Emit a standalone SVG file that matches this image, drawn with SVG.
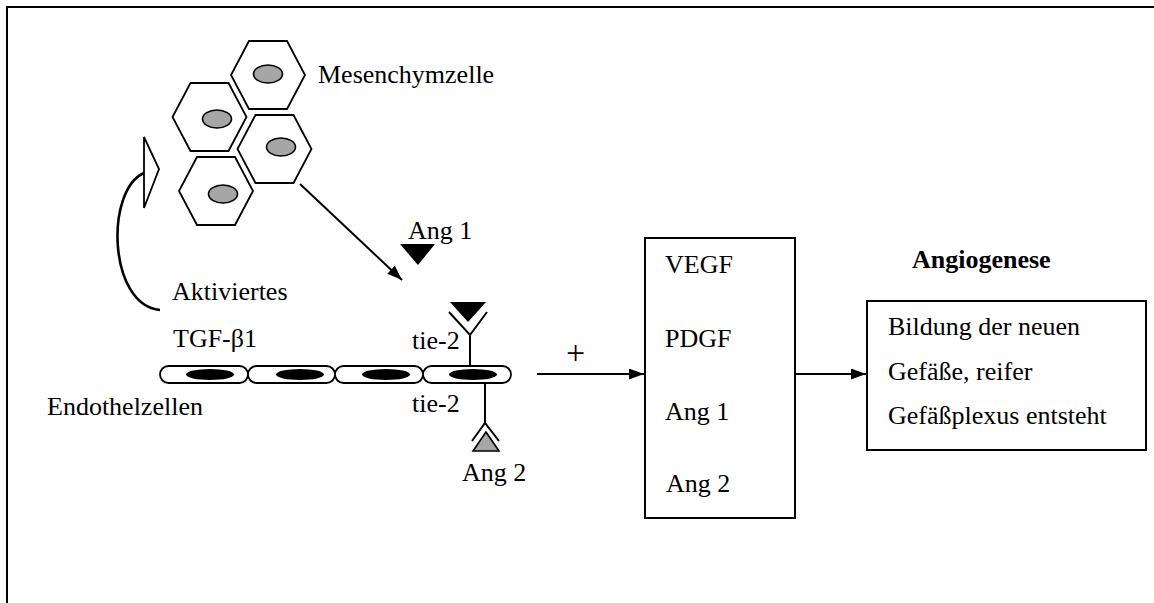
<svg xmlns="http://www.w3.org/2000/svg" width="1154" height="603" viewBox="0 0 1154 603">
  <defs>
    <style>
      .t { font-family: "Liberation Serif", "Times New Roman", serif; font-size: 26px; fill: #000; }
      .b { font-weight: bold; }
      .ln { fill: none; stroke: #000; stroke-width: 2; }
      .hex { fill: #fff; stroke: #000; stroke-width: 1.8; }
      .nuc { fill: #a6a6a6; stroke: #000; stroke-width: 1.6; }
      .cell { fill: #fff; stroke: #000; stroke-width: 1.8; }
      .box { fill: #fff; stroke: #000; stroke-width: 2; }
    </style>
    <marker id="ah" viewBox="0 0 15 11" refX="15" refY="5.5" markerWidth="15" markerHeight="11" markerUnits="userSpaceOnUse" orient="auto">
      <path d="M0,0 L15,5.5 L0,11 Z" fill="#000"/>
    </marker>
    <polygon id="hexshape" points="-19,-34 19,-34 37,0 19,34 -19,34 -37,0"/>
  </defs>

  <rect width="1154" height="603" fill="#fff"/>
  <!-- outer frame (open to the right and bottom) -->
  <path d="M7,603 V7 H1154" fill="none" stroke="#000" stroke-width="2"/>

  <!-- mesenchymal cell cluster -->
  <g id="mesenchym">
    <use href="#hexshape" class="hex" transform="translate(268,75)"/>
    <ellipse class="nuc" cx="268" cy="74" rx="14.5" ry="9"/>
    <use href="#hexshape" class="hex" transform="translate(209.5,117)"/>
    <ellipse class="nuc" cx="217" cy="119" rx="14.5" ry="9"/>
    <use href="#hexshape" class="hex" transform="translate(274.5,149)"/>
    <ellipse class="nuc" cx="281" cy="147" rx="14.5" ry="9"/>
    <use href="#hexshape" class="hex" transform="translate(216,191)"/>
    <ellipse class="nuc" cx="223" cy="194" rx="14.5" ry="9"/>
    <text class="t" x="318" y="83">Mesenchymzelle</text>
  </g>

  <!-- TGF-beta1 feedback -->
  <g id="tgf">
    <path d="M160,310 C108,305 105,190 144,173" fill="none" stroke="#000" stroke-width="2.6"/>
    <polygon points="144,137 159,169 144,208" fill="#fff" stroke="#000" stroke-width="1.8"/>
    <text class="t" x="172" y="300">Aktiviertes</text>
    <text class="t" x="173" y="347">TGF-β1</text>
  </g>

  <!-- Ang 1 ligand -->
  <g id="ang1">
    <text class="t" x="408" y="239">Ang 1</text>
    <polygon points="400,244 435,244 418,265" fill="#000"/>
  </g>

  <!-- endothelial cell row -->
  <g id="endothel">
    <rect class="cell" x="160" y="366" width="88" height="17" rx="8.5"/>
    <rect class="cell" x="248" y="366" width="87" height="17" rx="8.5"/>
    <rect class="cell" x="335" y="366" width="88" height="17" rx="8.5"/>
    <rect class="cell" x="423" y="366" width="88" height="17" rx="8.5"/>
    <ellipse cx="210" cy="374.5" rx="24" ry="5.5" fill="#000"/>
    <ellipse cx="300" cy="374.5" rx="24" ry="5.5" fill="#000"/>
    <ellipse cx="386" cy="374.5" rx="24" ry="5.5" fill="#000"/>
    <ellipse cx="473" cy="374.5" rx="24" ry="5.5" fill="#000"/>
    <text class="t" x="47" y="415">Endothelzellen</text>
  </g>

  <!-- tie-2 receptor bound by Ang 1 -->
  <g id="tie2-ang1">
    <polygon points="450,302 486,302 468,322" fill="#000"/>
    <path class="ln" d="M449,312 L470,335 L487,312 M470,335 V366"/>
    <text class="t" x="412" y="349">tie-2</text>
  </g>

  <!-- tie-2 receptor bound by Ang 2 -->
  <g id="tie2-ang2">
    <path class="ln" d="M485,383 V423 M472,441 L485,423 L499,441"/>
    <polygon points="486,432 473,451 499,451" fill="#a6a6a6" stroke="#000" stroke-width="1.6"/>
    <text class="t" x="412" y="412">tie-2</text>
    <text class="t" x="462" y="481">Ang 2</text>
  </g>

  <!-- growth factor box -->
  <g id="faktoren">
    <rect class="box" x="645" y="238" width="150" height="280"/>
    <text class="t" x="665" y="273">VEGF</text>
    <text class="t" x="665" y="347">PDGF</text>
    <text class="t" x="665" y="420">Ang 1</text>
    <text class="t" x="666" y="492">Ang 2</text>
  </g>

  <!-- angiogenesis outcome -->
  <g id="angiogenese">
    <text class="t b" x="912" y="268">Angiogenese</text>
    <rect class="box" x="867" y="301" width="279" height="149"/>
    <text class="t" x="888" y="335">Bildung der neuen</text>
    <text class="t" x="888" y="380">Gefäße, reifer</text>
    <text class="t" x="888" y="424">Gefäßplexus entsteht</text>
  </g>

  <!-- connectors -->
  <g id="connectors">
    <line class="ln" x1="300" y1="184" x2="402" y2="280" marker-end="url(#ah)"/>
    <line class="ln" x1="537" y1="374" x2="644" y2="374" marker-end="url(#ah)"/>
    <text class="t" x="566" y="364" style="font-size:34px">+</text>
    <line class="ln" x1="795" y1="374" x2="866" y2="374" marker-end="url(#ah)"/>
  </g>
</svg>
